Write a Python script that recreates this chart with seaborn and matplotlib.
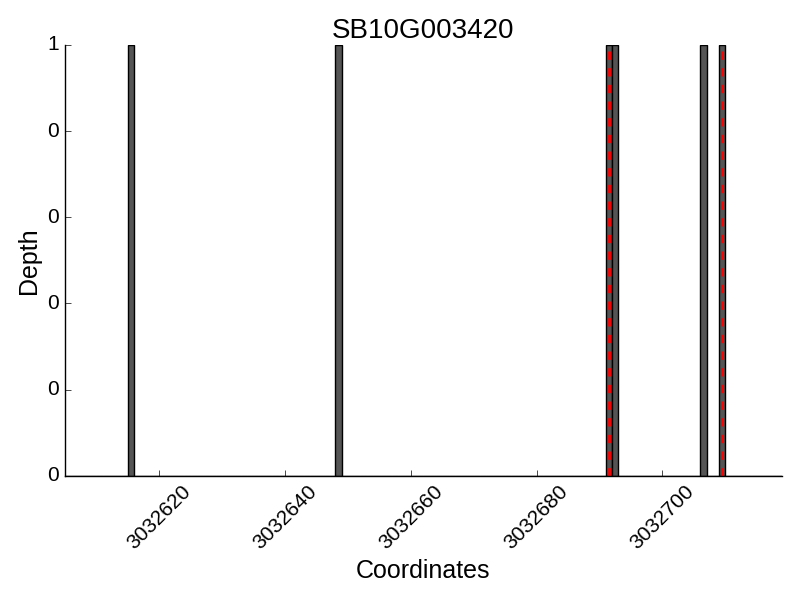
import numpy as np
import pandas as pd
import matplotlib
matplotlib.use("Agg")
import matplotlib.pyplot as plt
import seaborn as sns

# covered positions and their depth
coords = [3032615, 3032648, 3032691, 3032692, 3032706, 3032709]
depth = [1, 1, 1, 1, 1, 1]
# variant sites (red dashed)
snps = [3032691, 3032709]
gene = "SB10G003420"
xrange_ = (3032605, 3032719)

plt.style.use("classic")
plt.rcParams["font.family"] = ["Liberation Sans", "DejaVu Sans"]

df = pd.DataFrame({"pos": coords, "depth": depth})

fig, ax = plt.subplots(figsize=(8, 6), dpi=100)
fig.subplots_adjust(left=0.081, right=0.9775, top=0.925, bottom=0.207)
fig.patch.set_facecolor("white")

sns.histplot(data=df, x="pos", weights="depth", binwidth=1, binrange=xrange_,
             color="#555555", edgecolor="black", linewidth=1, alpha=1, ax=ax)

for s in snps:
    ax.axvline(s + 0.5, color="red", linestyle="--", linewidth=2)

ax.set_xlim(*xrange_)
ax.set_ylim(0, 1)
ax.set_yticks(np.linspace(0, 1, 6))
ax.yaxis.set_major_formatter(matplotlib.ticker.FormatStrFormatter("%d"))
ax.xaxis.set_major_formatter(matplotlib.ticker.FormatStrFormatter("%d"))
ax.set_xticks(np.arange(3032620, 3032701, 20))
ax.spines["top"].set_visible(False)
ax.spines["right"].set_visible(False)
ax.tick_params(top=False, right=False, direction="in", labelsize=15)
plt.setp(ax.get_xticklabels(), rotation=45)
ax.set_title(gene, fontsize=20)
ax.set_xlabel("Coordinates", fontsize=18)
ax.set_ylabel("Depth", fontsize=18)

fig.savefig("out.png", dpi=100, facecolor="white")
